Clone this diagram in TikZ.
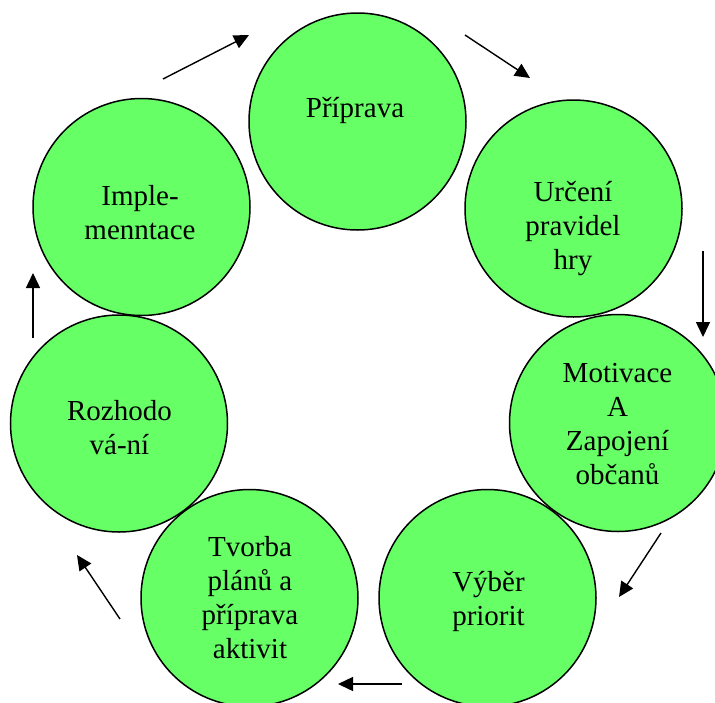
\documentclass[tikz,border=0pt]{standalone}
\usepackage{fontspec}
\setmainfont{Liberation Serif}
\usetikzlibrary{arrows.meta}
\definecolor{cgreen}{RGB}{102,255,102}
\tikzset{
  stage/.style={circle, draw=black, line width=1.5pt, fill=cgreen, minimum size=217pt, inner sep=0pt},
  lbl/.style={align=center, font=\fontsize{29}{34}\selectfont, inner sep=0pt},
  flow/.style={line width=1.4pt, -{Triangle[length=15pt,width=14pt]}}
}
\begin{document}
\begin{tikzpicture}[x=1pt,y=-1pt]
\useasboundingbox (0,0) rectangle (715,702);
\node[stage] (P) at (357.5,121.5) {};
\node[stage] (U) at (573.5,208.5) {};
\node[stage] (M) at (618,423) {};
\node[stage] (V) at (487.5,598) {};
\node[stage] (T) at (249.5,598) {};
\node[stage] (R) at (119,423.5) {};
\node[stage] (I) at (141.5,207) {};
\node[lbl] (tP) at (355,110) {Příprava};
\node[lbl] (tU) at (573,229) {Určení\\pravidel\\hry};
\node[lbl] (tM) at (617.5,424.5) {Motivace\\A\\Zapojení\\občanů};
\node[lbl] (tV) at (488.5,601) {Výběr\\priorit};
\node[lbl] (tT) at (250,598) {Tvorba\\plánů a\\příprava\\aktivit};
\node[lbl] (tR) at (119.5,427.5) {Rozhodo\\vá-ní};
\node[lbl] (tI) at (140,213) {Imple-\\menntace};
\coordinate (a1s) at (163,79);  \coordinate (a1e) at (249,35);
\coordinate (a2s) at (465,35);  \coordinate (a2e) at (530,78);
\coordinate (a3s) at (703,251); \coordinate (a3e) at (703,337);
\coordinate (a4s) at (661,533); \coordinate (a4e) at (619,597);
\coordinate (a5s) at (402,684); \coordinate (a5e) at (338,684);
\coordinate (a6s) at (120,619); \coordinate (a6e) at (77,555);
\coordinate (a7s) at (33,338);  \coordinate (a7e) at (33,273);
\draw[flow] (a1s) -- (a1e);
\draw[flow] (a2s) -- (a2e);
\draw[flow] (a3s) -- (a3e);
\draw[flow] (a4s) -- (a4e);
\draw[flow] (a5s) -- (a5e);
\draw[flow] (a6s) -- (a6e);
\draw[flow] (a7s) -- (a7e);
\end{tikzpicture}
\end{document}
